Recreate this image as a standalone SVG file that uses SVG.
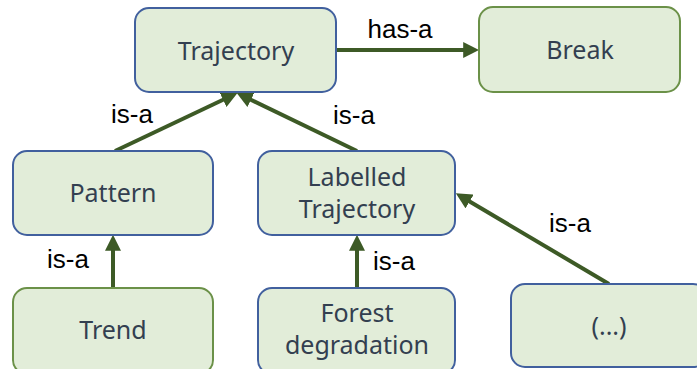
<svg xmlns="http://www.w3.org/2000/svg" width="697" height="369" viewBox="0 0 697 369">
<defs>
<style>
.n{fill:#E2EDD9;stroke-width:2}
.b{stroke:#41609E}
.g{stroke:#6B9148}
.t{font-family:"Noto Sans","Open Sans",sans-serif;font-size:25px;fill:#333F50;text-anchor:middle}
.l{font-family:"Liberation Sans",Arial,sans-serif;font-size:26px;fill:#000;text-anchor:middle}
.c{stroke:#3D5A26;stroke-width:4;fill:none;marker-end:url(#ah)}
</style>
<marker id="ah" markerWidth="4" markerHeight="4" refX="2.2" refY="2" orient="auto" markerUnits="strokeWidth">
<path d="M0,0 L4,2 L0,4 Z" fill="#3D5A26"/>
</marker>
</defs>
<rect width="697" height="369" fill="#fff"/>
<g id="connectors">
<line class="c" x1="336" y1="50" x2="472" y2="50"/>
<line class="c" x1="115" y1="151" x2="231" y2="96"/>
<line class="c" x1="357" y1="151" x2="243" y2="96"/>
<line class="c" x1="113" y1="288" x2="113" y2="242"/>
<line class="c" x1="357" y1="288" x2="357" y2="242"/>
<line class="c" x1="609" y1="284" x2="462" y2="197"/>
<text class="l" x="400" y="38">has-a</text>
<text class="l" x="132" y="123">is-a</text>
<text class="l" x="354" y="124">is-a</text>
<text class="l" x="68" y="268">is-a</text>
<text class="l" x="394" y="270">is-a</text>
<text class="l" x="570" y="232">is-a</text>
</g>
<g id="trajectory">
<rect class="n b" x="135" y="8" width="201" height="84" rx="14"/>
<text class="t" x="236" y="60">Trajectory</text>
</g>
<g id="break">
<rect class="n g" x="479" y="7" width="201" height="85" rx="14"/>
<text class="t" x="580" y="59">Break</text>
</g>
<g id="pattern">
<rect class="n b" x="13" y="151" width="200" height="84" rx="14"/>
<text class="t" x="113" y="202">Pattern</text>
</g>
<g id="labelled">
<rect class="n b" x="258" y="151" width="197" height="84" rx="14"/>
<text class="t" x="357" y="186">Labelled</text>
<text class="t" x="357" y="218">Trajectory</text>
</g>
<g id="trend">
<rect class="n g" x="13" y="288" width="200" height="86" rx="14"/>
<text class="t" x="113" y="339">Trend</text>
</g>
<g id="forest">
<rect class="n b" x="258" y="288" width="197" height="86" rx="14"/>
<text class="t" x="357" y="322">Forest</text>
<text class="t" x="357" y="354">degradation</text>
</g>
<g id="etc">
<rect class="n b" x="511" y="284" width="196" height="83" rx="14"/>
<text class="t" x="609" y="335">(...)</text>
</g>
</svg>
